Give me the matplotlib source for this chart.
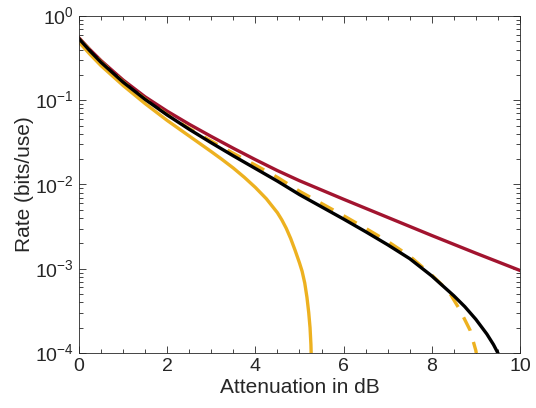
import matplotlib
matplotlib.use("Agg")
import matplotlib.pyplot as plt
import numpy as np
from matplotlib.ticker import MultipleLocator, LogLocator, NullFormatter

plt.rcParams["font.family"] = ["Liberation Sans", "DejaVu Sans"]
plt.rcParams["mathtext.fontset"] = "custom"
plt.rcParams["mathtext.rm"] = "Liberation Sans"

# values (log10 of rate)
red_x = [0, 0.25, 0.5, 1, 1.5, 2, 2.5, 3, 3.5, 4, 4.5, 5, 6, 7, 8, 9, 10]
red_log = [-0.26, -0.40, -0.53, -0.76, -0.96, -1.13, -1.285, -1.43, -1.57,
           -1.705, -1.835, -1.955, -2.175, -2.39, -2.605, -2.815, -3.02]

black_x = [0, 0.25, 0.5, 1, 1.5, 2, 2.5, 3, 3.5, 4, 4.5, 5, 5.5, 6, 6.5,
           7, 7.5, 8, 8.5, 8.75, 9, 9.25, 9.4, 9.5, 9.56]
black_log = [-0.27, -0.415, -0.55, -0.785, -0.99, -1.175, -1.345, -1.505,
             -1.66, -1.81, -1.96, -2.12, -2.265, -2.41, -2.56, -2.715,
             -2.88, -3.085, -3.32, -3.45, -3.60, -3.775, -3.90, -4.0, -4.08]

yel_x = [0, 0.25, 0.5, 1, 1.5, 2, 2.5, 3, 3.25, 3.5, 3.75, 4, 4.25, 4.5,
         4.6, 4.7, 4.8, 4.9, 5.0, 5.06, 5.12, 5.17, 5.21, 5.24, 5.26, 5.275]
yel_log = [-0.31, -0.455, -0.59, -0.825, -1.04, -1.24, -1.425, -1.61, -1.705,
           -1.805, -1.915, -2.035, -2.17, -2.335, -2.42, -2.52, -2.64, -2.78,
           -2.93, -3.03, -3.17, -3.34, -3.52, -3.70, -3.90, -4.2]

dash_x = [0, 0.5, 1, 1.5, 2, 2.5, 3, 3.5, 4, 4.5, 5, 5.5, 6, 6.5, 7, 7.5,
          8, 8.25, 8.41, 8.64, 8.87, 9.0, 9.04]
dash_log = [-0.27, -0.545, -0.78, -0.985, -1.17, -1.335, -1.485, -1.63,
            -1.77, -1.915, -2.08, -2.225, -2.37, -2.52, -2.675, -2.85,
            -3.075, -3.20, -3.29, -3.49, -3.73, -3.97, -4.1]

RED = "#A2142F"
YELLOW = "#EDB120"

fig = plt.figure(figsize=(5.36, 4.08), dpi=100)
ax = fig.add_axes([0.1474, 0.1348, 0.8226, 0.826])

lw = 2.4
ax.plot(red_x, 10 ** np.array(red_log), color=RED, lw=lw)
ax.plot(yel_x, 10 ** np.array(yel_log), color=YELLOW, lw=lw)
ax.plot(dash_x, 10 ** np.array(dash_log), color=YELLOW, lw=lw,
        linestyle=(0, (4.5, 3.5)))
ax.plot(black_x, 10 ** np.array(black_log), color="black", lw=lw)

ax.set_yscale("log")
ax.set_xlim(0, 10)
ax.set_ylim(1e-4, 1)
ax.set_xticks([0, 2, 4, 6, 8, 10])
ax.xaxis.set_minor_locator(MultipleLocator(0.5))
ax.set_yticks([1e-4, 1e-3, 1e-2, 1e-1, 1])
ax.set_yticklabels([r"$10^{-4}$", r"$10^{-3}$", r"$10^{-2}$", r"$10^{-1}$", r"$10^{0}$"])
ax.yaxis.set_minor_locator(LogLocator(base=10, subs=np.arange(2, 10)))
ax.yaxis.set_minor_formatter(NullFormatter())

ax.tick_params(which="both", direction="in", top=True, right=True,
               colors="#262626", labelcolor="#262626", labelsize=14, width=0.6)
ax.tick_params(which="major", length=5)
ax.tick_params(which="minor", length=2.8)
for s in ax.spines.values():
    s.set_color("#262626")
    s.set_linewidth(0.6)

ax.set_xlabel("Attenuation in dB", fontsize=15, color="#262626", labelpad=2)
ax.set_ylabel("Rate (bits/use)", fontsize=15, color="#262626", labelpad=1)

fig.savefig("out.png", dpi=100)
